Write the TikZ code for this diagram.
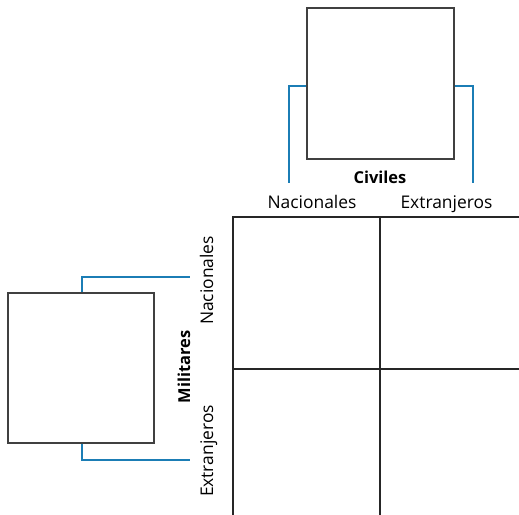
\documentclass[tikz,border=0pt]{standalone}
\usepackage{fontspec}
\setmainfont{Open Sans}
\usetikzlibrary{calc}
\definecolor{bracketblue}{RGB}{27,125,181}
\tikzset{
  panel/.style={draw=black!75, line width=1.2bp, fill=white, inner sep=0pt},
  bracket/.style={draw=bracketblue, line width=2.8bp},
  gridline/.style={draw=black!85, line width=1.2bp},
  lbl/.style={font=\fontsize{17.5}{20}\selectfont, inner sep=0pt, anchor=base},
  head/.style={font=\fontsize{16.5}{19}\selectfont\bfseries, inner sep=0pt, anchor=base}
}
\begin{document}
\begin{tikzpicture}[x=1bp,y=-1bp]
  \useasboundingbox (0,0) rectangle (519,515);

  % two-by-two grid, open on the right and at the bottom
  \coordinate (gTL) at (233,217);
  \coordinate (gTR) at (519,217);
  \coordinate (gBL) at (233,515);
  \coordinate (gMT) at (380,217);
  \coordinate (gMB) at (380,515);
  \coordinate (gML) at (233,369);
  \coordinate (gMR) at (519,369);
  \draw[gridline] (gTR) -- (gTL) -- (gBL);
  \draw[gridline] (gMT) -- (gMB);
  \draw[gridline] (gML) -- (gMR);

  % civilians panel with its two column brackets
  \node[panel, minimum width=147bp, minimum height=151bp] (civ) at (380.5,83.5) {};
  \coordinate (civL) at (289,183);
  \coordinate (civR) at (473,183);
  \draw[bracket] ($(civ.west)+(0,2.5)$) -| (civL);
  \draw[bracket] ($(civ.east)+(0,2.5)$) -| (civR);
  \node[head] (civT) at (380,184) {Civiles};
  \node[lbl] (civN) at (312,208) {Nacionales};
  \node[lbl] (civE) at (446.5,208) {Extranjeros};

  % military panel with its two row brackets
  \node[panel, minimum width=146bp, minimum height=150bp] (mil) at (81,368) {};
  \coordinate (milT) at (190,277);
  \coordinate (milB) at (190,460);
  \draw[bracket] ($(mil.north)+(1,0)$) |- (milT);
  \draw[bracket] ($(mil.south)+(1,0)$) |- (milB);
  \node[head, rotate=90] (milM) at (190,367) {Militares};
  \node[lbl, rotate=90] (milN) at (213,280.5) {Nacionales};
  \node[lbl, rotate=90] (milE) at (213,451) {Extranjeros};
\end{tikzpicture}
\end{document}
